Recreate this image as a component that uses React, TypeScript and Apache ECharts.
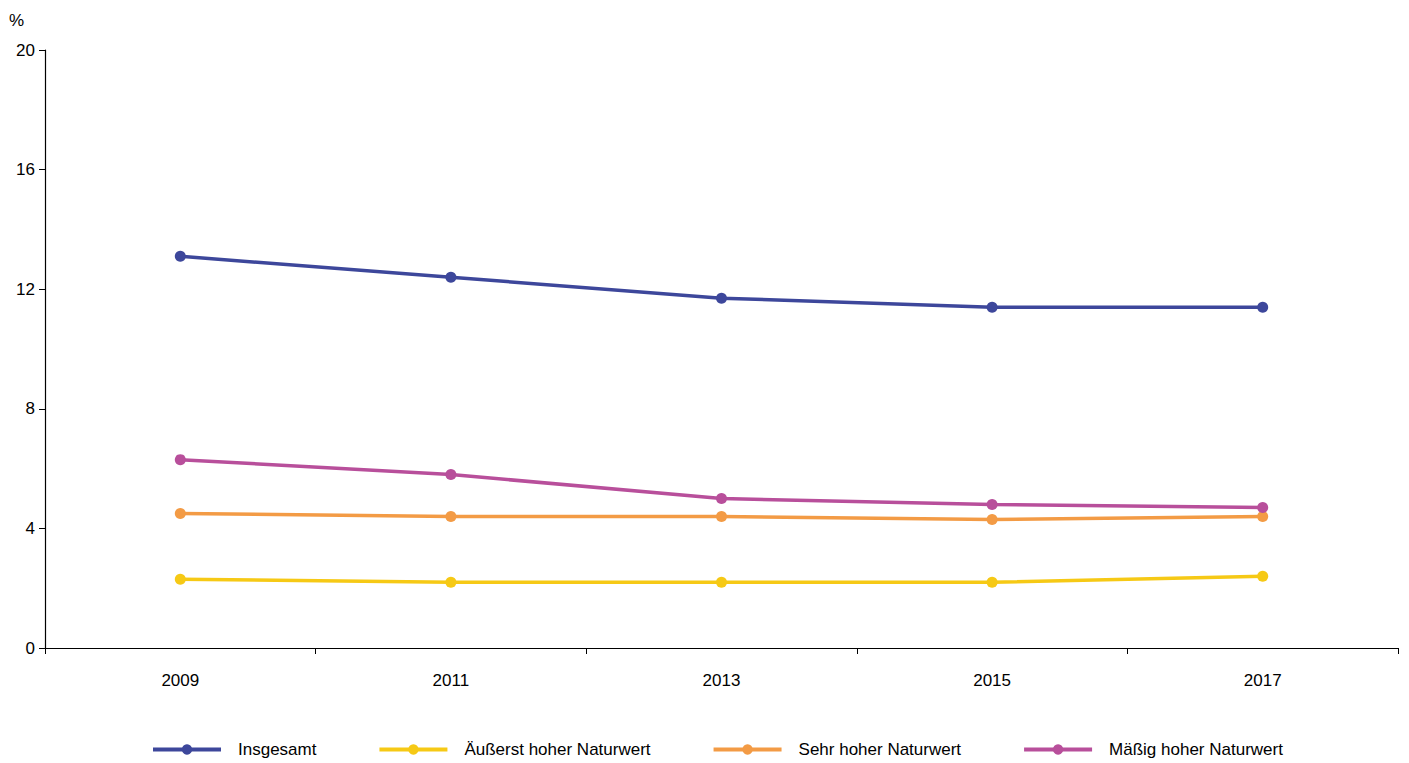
import React, { useEffect, useRef } from "react";
import * as echarts from "echarts";

const years = ["2009", "2011", "2013", "2015", "2017"];
const insgesamt = [13.1, 12.4, 11.7, 11.4, 11.4];
const aeusserst = [2.3, 2.2, 2.2, 2.2, 2.4];
const sehr = [4.5, 4.4, 4.4, 4.3, 4.4];
const maessig = [6.3, 5.8, 5.0, 4.8, 4.7];

const seriesNames = ["Insgesamt", "Äußerst hoher Naturwert", "Sehr hoher Naturwert", "Mäßig hoher Naturwert"];
const seriesColors = ["#3d479b", "#f6c915", "#f39b45", "#b84f9b"];
const seriesData = [insgesamt, aeusserst, sehr, maessig];

const FONT = "'Liberation Sans Narrow', 'Arial Narrow', 'Liberation Sans', Arial, sans-serif";

export default function App() {
  const ref = useRef<HTMLDivElement>(null);
  useEffect(() => {
    if (!ref.current) return;
    const chart = echarts.init(ref.current, undefined, { renderer: "svg" });
    chart.setOption({
      animation: false,
      backgroundColor: "#ffffff",
      textStyle: { fontFamily: FONT },
      grid: { left: 45, right: 11, top: 50, bottom: 115, containLabel: false },
      graphic: [
        {
          type: "text",
          left: 9,
          top: 12,
          style: { text: "%", fontSize: 17, fill: "#000", fontFamily: FONT },
        },
      ],
      legend: {
        left: 146,
        bottom: 0,
        itemWidth: 68,
        itemHeight: 13,
        itemGap: 61,
        lineStyle: { width: 4 },
        textStyle: { fontSize: 17, color: "#000", fontFamily: FONT, padding: [0, 0, 0, 12] },
        data: seriesNames,
      },
      xAxis: {
        type: "category",
        data: years,
        boundaryGap: true,
        axisLine: { lineStyle: { color: "#000", width: 1.2 } },
        axisTick: { show: true, length: 6, lineStyle: { color: "#000" } },
        axisLabel: { color: "#000", fontSize: 17, margin: 24, fontFamily: FONT },
        splitLine: { show: false },
      },
      yAxis: {
        type: "value",
        min: 0,
        max: 20,
        interval: 4,
        axisLine: { show: true, lineStyle: { color: "#000", width: 1.2 } },
        axisTick: { show: true, length: 6, lineStyle: { color: "#000" } },
        axisLabel: { color: "#000", fontSize: 17, margin: 10, fontFamily: FONT },
        splitLine: { show: false },
      },
      series: seriesNames.map((name, i) => ({
        name,
        type: "line",
        data: seriesData[i],
        color: seriesColors[i],
        symbol: "circle",
        symbolSize: 11,
        lineStyle: { width: 3.5, color: seriesColors[i] },
        itemStyle: { color: seriesColors[i] },
      })),
    });
    return () => chart.dispose();
  }, []);
  return (
    <div
      ref={ref}
      style={{ position: "fixed", left: 0, top: 0, width: 1409, height: 763 }}
    />
  );
}
